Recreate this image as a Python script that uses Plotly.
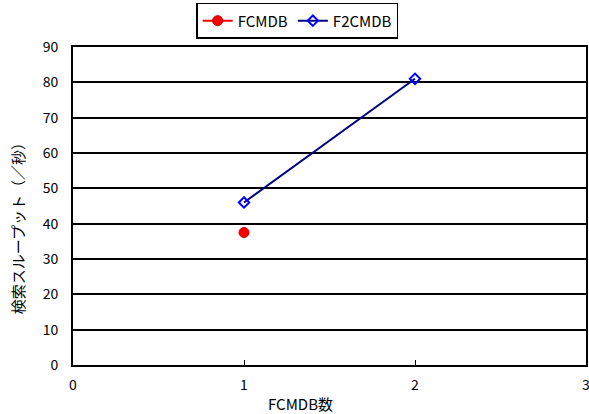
import plotly.graph_objects as go

x_fcmdb = [1]
y_fcmdb = [37.5]
x_f2cmdb = [1, 2]
y_f2cmdb = [46, 81]
y_ticks = [0, 10, 20, 30, 40, 50, 60, 70, 80, 90]
x_ticks = [0, 1, 2, 3]
x_title = "FCMDB数"
y_title = "検索スループット（／秒）"

font_family = "Noto Sans CJK JP"

fig = go.Figure()
fig.add_trace(go.Scatter(
    x=x_fcmdb, y=y_fcmdb, name="FCMDB", mode="lines+markers",
    line=dict(color="#ff0000", width=2),
    marker=dict(symbol="circle", size=10, color="#ff0000", line=dict(color="#c00000", width=1)),
))
fig.add_trace(go.Scatter(
    x=x_f2cmdb, y=y_f2cmdb, name="F2CMDB", mode="lines+markers",
    line=dict(color="#000080", width=2),
    marker=dict(symbol="diamond-open", size=8, color="#0000ff", line=dict(color="#0000ff", width=2)),
))

fig.update_layout(
    width=589, height=414,
    margin=dict(l=73, r=3, t=47, b=49, autoexpand=False),
    paper_bgcolor="white", plot_bgcolor="white",
    font=dict(family=font_family, size=14, color="black"),
    showlegend=True,
    legend=dict(
        orientation="h", x=0.437, xanchor="center",
        yref="container", y=0.993, yanchor="top",
        bordercolor="black", borderwidth=1.5, bgcolor="white",
        font=dict(family=font_family, size=15),
        tracegroupgap=0,
    ),
    xaxis=dict(
        range=[0, 3], tickvals=x_ticks, showgrid=False, zeroline=False,
        showline=True, linecolor="black", linewidth=2, mirror=True,
        ticks="inside", ticklen=5, tickcolor="black",
        ticklabelstandoff=6, ticklabeloverflow="allow",
        tickfont=dict(size=14),
    ),
    yaxis=dict(
        range=[0, 90], tickvals=y_ticks, showgrid=True, gridcolor="black", gridwidth=1.5,
        zeroline=False, showline=True, linecolor="black", linewidth=2, mirror=True,
        ticks="", ticklabelstandoff=10, ticklabeloverflow="allow",
        tickfont=dict(size=14),
    ),
    annotations=[
        dict(text=x_title, xref="paper", yref="paper", x=0.4425, y=-0.1195,
             xanchor="center", yanchor="middle", showarrow=False, font=dict(size=15)),
        dict(text=y_title, xref="paper", yref="paper", x=-0.109, y=0.44,
             xanchor="center", yanchor="middle", showarrow=False, textangle=-90,
             font=dict(size=15)),
    ],
)

fig.write_html("out.html")
